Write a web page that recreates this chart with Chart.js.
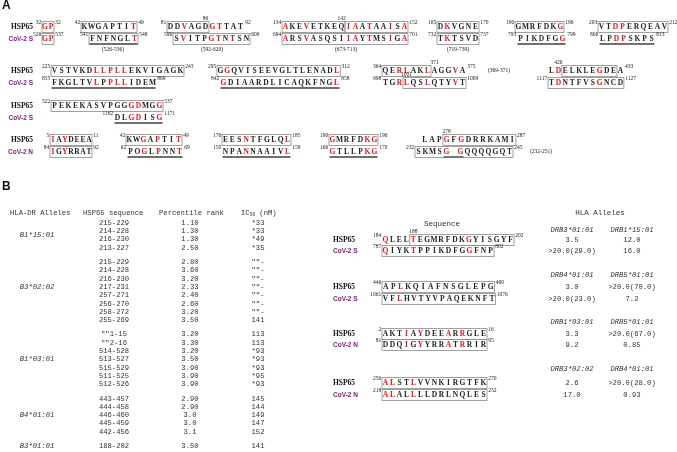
<!DOCTYPE html>
<html>
<head>
<meta charset="utf-8">
<script src="https://cdn.jsdelivr.net/npm/chart.js@4.4.1/dist/chart.umd.min.js"></script>
<style>
  html, body { margin: 0; padding: 0; background: #fff; }
  #wrap { width: 677px; height: 452px; position: relative; }
</style>
</head>
<body>
<div id="wrap"><canvas id="fig"></canvas></div>
<script>
// ===== panel A: aligned segments, HSP65 (top) vs CoV-2 (bottom) =====
const hspSeqs = ["GP", "KWGAPTIT", "DDVAGDGTTAT", "AKEVETKEQIAATAAISA", "DKVGNE", "GMRFDKG", "VTDPERQEAV",
    "VSTVKDLLPLLEKVIGAGK", "GGQVISEEVGLTLENADL", "QERLAKLAGGVA", "LDELKLEGDEA",
    "PEKEKASVPGGGDMGG",
    "IAYDEEA", "KWGAPTIT", "EESNTFGLQL", "GMRFDKG", "LAPGFGDRRKAMI"];
const covSeqs = ["GP", "FNFNGLT", "SVITPGTNTSN", "ARSVASQSIIAYTMSIGA", "TKTSVD", "PIKDFGG", "LPDPSKPS",
    "FKGLTVLPPLLIDEM", "GDIAARDLICAQKFNGL", "TGRLQSLQTYVT", "TDNTFVSGNCD",
    "DLGDISG",
    "IGYRRAT", "POGLPNNT", "NPANNAAIVL", "GTLLPKG", "SKMSG GQQQQGQT"];
const hspStart = [32, 42, 81, 134, 165, 190, 203, 225, 295, 364, null, 522, 5, 42, 176, 190, null];
const hspEnd = [32, 49, 92, 152, 170, 196, 212, 243, 312, 375, 433, 537, 11, 49, 185, 196, 287];
const covStart = [526, 541, 596, 694, 732, 793, 806, 855, 842, 998, 1117, 1162, 84, 62, 150, 166, 232];
const covEnd = [537, 548, 606, 701, 737, 799, 813, 869, 858, 1009, 1127, 1171, 92, 69, 159, 170, 245];
const hspRed = [[0, 1], [7], [2, 6, 7], [0, 3, 9, 10, 12, 15, 17], [1], [6], [2, 3],
    [6, 7, 8, 9, 10], [1, 17], [2, 3, 6, 10], [1, 7], [11, 12, 15],
    [0, 2], [2, 4, 7], [3, 9], [0, 5, 6], [3, 5]];
const covRed = [[0, 1], [6], [1, 5, 6, 8], [0, 3, 9, 10, 12, 15, 17], [1], [6], [2, 3],
    [6, 8, 9, 10], [0, 16], [2, 3, 6, 10], [1, 7], [2, 3, 6],
    [0, 2], [2, 4, 7], [3, 9], [0, 5, 6], [4, 6]];
// residue numbers printed above a given letter: [letter index, number]
const hspMarks = [[], [], [[5, 86]], [[8, 142]], [], [], [], [], [], [[7, 371]], [[1, 426]], [], [], [], [], [], [[3, 278]]];
const covMarks = [[], [], [], [], [], [], [], [], [], [[3, 1001]], [], [], [], [], [], [], []];
const rangeNotes = ["", "(526-536)", "(592-620)", "(673-713)", "(719-739)", "", "", "", "", "(369-371)",
    "", "", "", "", "", "", "(232-251)"];
const rowNames = ["CoV-2 S", "CoV-2 S", "CoV-2 S", "CoV-2 N"];

// ===== panel B left: predicted binders =====
const leftAlleles = ["B1*15:01", "B3*02:02", "B1*03:01", "B4*01:01", "B3*01:01"];
const hspRanges = [
    ["215-229", "214-228", "216-230", "213-227"],
    ["215-229", "214-228", "216-230", "217-231", "257-271", "256-270", "258-272", "255-269"],
    ["\"\"1-15", "\"\"2-16", "514-528", "513-527", "515-529", "511-525", "512-526"],
    ["443-457", "444-458", "446-460", "445-459", "442-456"],
    ["188-202"]];
const percentileRanks = [
    ["1.10", "1.30", "1.30", "2.50"],
    ["2.80", "3.60", "3.20", "2.33", "2.40", "2.60", "3.20", "3.50"],
    ["3.20", "3.30", "3.20", "3.50", "3.90", "3.90", "3.90"],
    ["2.90", "2.90", "3.0", "3.0", "3.1"],
    ["3.50"]];
const ic50Values = [
    ["*33", "*33", "*49", "*35"],
    ["\"\"-", "\"\"-", "\"\"-", "\"\"-", "\"\"-", "\"\"-", "\"\"-", "141"],
    ["113", "113", "*93", "*93", "*93", "*95", "*93"],
    ["145", "144", "149", "147", "152"],
    ["141"]];
const alleleRowIdx = [1.5, 3, 3, 2, 0];

// ===== panel B right: measured binding =====
const rightHsp = ["QLELTEGMRFDKGYISGYF", "APLKQIAFNSGLEPG", "AKTIAYDEEARRGLE", "ALSTLVVNKIRGTFK"];
const rightCov = ["QIYKTPPIKDFGGFNP", "VFLHVTYVPAQEKNFT", "DDQIGYYRRATRRIR", "ALALLLLDRLNQLES"];
const rightHspStart = [184, 446, 2, 256];
const rightHspEnd = [202, 460, 16, 270];
const rightCovStart = [787, 1061, 81, 218];
const rightCovEnd = [802, 1076, 95, 232];
const rightHspRed = [[0, 4, 12], [2], [3, 5, 9, 11], [0, 1, 4]];
const rightCovRed = [[0, 4, 12], [2], [3, 5, 9, 11], [0, 1, 4]];
const rightHspMarks = [[[4, 188]], [], [], []];
const rightCovNames = ["CoV-2 S", "CoV-2 S", "CoV-2 N", "CoV-2 N"];
const alleleA = ["DRB3*01:01", "DRB4*01:01", "DRB1*03:01", "DRB3*02:02"];
const alleleB = ["DRB1*15:01", "DRB5*01:01", "DRB5*01:01", "DRB4*01:01"];
const hspValA = ["3.5", "3.0", "3.3", "2.6"];
const hspValB = ["12.0", ">20.0(70.0)", ">20.0(67.0)", ">20.0(28.0)"];
const covValA = [">20.0(29.0)", ">20.0(23.0)", "9.2", "17.0"];
const covValB = ["16.0", "7.2", "0.85", "0.93"];

// ---- layout (positions only) ----
const segRow = [0, 0, 0, 0, 0, 0, 0, 1, 1, 1, 1, 2, 3, 3, 3, 3, 3];
const rowTopY = [27, 71, 106, 140];
const rowBotY = [39, 83, 118, 152];
const hspX0 = [42, 81, 167, 282, 437, 515, 598, 51, 217, 382, 548, 51, 50, 126, 222, 329, 421];
const hspPitch = [6, 7, 7, 7, 7, 7, 7, 7, 6.85, 7, 6.9, 7, 6, 7, 6.9, 7, 7.3];
const covX0 = [42, 89, 173, 282, 437, 517, 599, 51, 220, 382, 548, 114, 50, 127, 222, 329, 415];
const covPitch = [6, 7, 7, 7, 7, 7, 7, 7, 7.06, 7, 6.9, 7, 6, 7, 6.9, 7, 7];
const hspBox = [[[0, 1]], [[0, 7]], [[0, 5]], [[0, 8], [9, 17]], [[0, 5]], [[0, 6]], [[0, 9]],
    [[0, 18]], [[0, 17]], [[0, 6]], [[2, 9]], [[0, 15]],
    [[0, 6]], [[0, 7]], [[0, 9]], [[0, 6]], [[3, 12]]];
const covBox = [[[0, 1]], [[0, 6]], [[0, 10]], [[0, 17]], [[0, 5]], [], [],
    [], [], [[3, 11]], [[0, 10]], [],
    [[0, 6]], [], [], [], [[0, 13]]];
const covLine = [[], [[0, 6]], [], [], [], [[0, 6]], [[0, 7]],
    [[0, 14]], [[0, 16]], [], [], [[0, 6]],
    [], [[0, 7]], [[0, 9]], [[0, 6]], [[4, 6]]];
const rangeX = [0, 113, 212, 346, 458, 0, 0, 0, 0, 499, 0, 0, 0, 0, 0, 0, 541];
const rangeY = [0, 50, 50, 50, 50, 0, 0, 0, 0, 71, 0, 0, 0, 0, 0, 0, 152];

const rightTopY = [240, 287, 334, 383];
const rightBotY = [251, 299, 345, 395];
const rightHeadY = [230, 275, 322, 369];
const rightHspPitch = [6.95, 7.5, 7, 7];
const rightCovPitch = [7, 7.1, 7, 7];
const rightHspBox = [[[4, 18]], [[0, 14]], [[0, 14]], [[0, 14]]];

const RED = "#e3151b";
const PURPLE = "#861c88";
const SEQ_FONT = "bold 7.5px 'Liberation Serif'";
const NUM_FONT = "5.5px 'Liberation Serif'";
const MONO = "7.2px 'Liberation Mono'";
const MONO_IT = "italic 7.2px 'Liberation Mono'";

const figurePlugin = {
    id: "figure",
    afterDatasetsDraw(chart) {
        const ctx = chart.ctx;
        const X = (v) => chart.scales.x.getPixelForValue(v);
        const Y = (v) => chart.scales.y.getPixelForValue(v);

        function text(str, x, y, font, color, align) {
            ctx.font = font;
            ctx.fillStyle = color;
            ctx.textAlign = align || "left";
            ctx.textBaseline = "middle";
            ctx.fillText(str, X(x), Y(y));
        }

        function drawSeq(letters, x0, pitch, y, red, boxes, lines, marks, startNum, endNum) {
            ctx.strokeStyle = "#8a8a8a";
            ctx.lineWidth = 0.8;
            boxes.forEach(([a, b]) => {
                const xa = X(x0 + a * pitch), xb = X(x0 + (b + 1) * pitch);
                ctx.strokeRect(xa, Y(y - 5.5), xb - xa, Y(y + 5.5) - Y(y - 5.5));
            });
            ctx.strokeStyle = "#707070";
            ctx.lineWidth = 1.8;
            lines.forEach(([a, b]) => {
                ctx.beginPath();
                ctx.moveTo(X(x0 + a * pitch + 0.5), Y(y + 5));
                ctx.lineTo(X(x0 + (b + 1) * pitch - 0.5), Y(y + 5));
                ctx.stroke();
            });
            for (let i = 0; i < letters.length; i++) {
                const ch = letters[i];
                if (ch === " ") continue;
                text(ch, x0 + (i + 0.5) * pitch, y + 0.5, SEQ_FONT, red.includes(i) ? RED : "#222", "center");
            }
            marks.forEach(([i, n]) => text(String(n), x0 + (i + 0.5) * pitch, y - 8.5, NUM_FONT, "#222", "center"));
            if (startNum !== null) text(String(startNum), x0 - 0.8, y - 4, NUM_FONT, "#222", "right");
            if (endNum !== null) text(String(endNum), x0 + letters.length * pitch + 1.2, y - 4, NUM_FONT, "#222", "left");
        }

        // panel letters
        text("A", 2, 6, "bold 12px 'Liberation Sans'", "#111", "left");
        text("B", 2, 187, "bold 12px 'Liberation Sans'", "#111", "left");

        // row labels
        rowTopY.forEach((y, r) => {
            text("HSP65", 33, y + 0.5, "bold 7.5px 'Liberation Serif'", "#111", "right");
            text(rowNames[r], 33, rowBotY[r] + 0.5, "bold 6.5px 'Liberation Sans'", PURPLE, "right");
        });

        hspSeqs.forEach((seq, k) => {
            const r = segRow[k];
            drawSeq(seq, hspX0[k], hspPitch[k], rowTopY[r], hspRed[k], hspBox[k], [], hspMarks[k], hspStart[k], hspEnd[k]);
            drawSeq(covSeqs[k], covX0[k], covPitch[k], rowBotY[r], covRed[k], covBox[k], covLine[k], covMarks[k], covStart[k], covEnd[k]);
            if (rangeNotes[k]) text(rangeNotes[k], rangeX[k], rangeY[k], NUM_FONT, "#222", "center");
        });

        // ---- left table ----
        const hy = 213;
        text("HLA-DR Alleles", 10, hy, MONO, "#333", "left");
        text("HSP65 sequence", 83, hy, MONO, "#333", "left");
        text("Percentile rank", 159, hy, MONO, "#333", "left");
        text("IC", 241, hy, MONO, "#333", "left");
        text("50", 249.8, hy + 1.5, "4.5px 'Liberation Mono'", "#333", "left");
        text(" (nM)", 255, hy, MONO, "#333", "left");

        const step = 8.3, gap = 6;
        let y = 223;
        hspRanges.forEach((grp, g) => {
            const y0 = y;
            grp.forEach((seq, i) => {
                text(seq, 114, y, MONO, "#333", "center");
                text(percentileRanks[g][i], 190, y, MONO, "#333", "center");
                text(ic50Values[g][i], 258, y, MONO, "#333", "center");
                y += step;
            });
            text(leftAlleles[g], 37, y0 + alleleRowIdx[g] * step, MONO_IT, "#333", "center");
            y += gap;
        });

        // ---- right table ----
        text("HLA Alleles", 600, 213, "7.5px 'Liberation Mono'", "#333", "center");
        text("Sequence", 442, 224, "7.5px 'Liberation Mono'", "#333", "center");
        rightHsp.forEach((seq, k) => {
            text(alleleA[k], 572, rightHeadY[k], MONO_IT, "#333", "center");
            text(alleleB[k], 632, rightHeadY[k], MONO_IT, "#333", "center");
            text("HSP65", 333, rightTopY[k] + 0.5, "bold 7.5px 'Liberation Serif'", "#111", "left");
            text(rightCovNames[k], 333, rightBotY[k] + 0.5, "bold 6.5px 'Liberation Sans'", PURPLE, "left");
            drawSeq(seq, 382, rightHspPitch[k], rightTopY[k], rightHspRed[k], rightHspBox[k], [], rightHspMarks[k], rightHspStart[k], rightHspEnd[k]);
            const cov = rightCov[k];
            drawSeq(cov, 382, rightCovPitch[k], rightBotY[k], rightCovRed[k], [[0, cov.length - 1]], [], [], rightCovStart[k], rightCovEnd[k]);
            text(hspValA[k], 572, rightTopY[k], MONO, "#333", "center");
            text(hspValB[k], 632, rightTopY[k], MONO, "#333", "center");
            text(covValA[k], 572, rightBotY[k], MONO, "#333", "center");
            text(covValB[k], 632, rightBotY[k], MONO, "#333", "center");
        });
    },
};

new Chart(document.querySelector("#fig"), {
    type: "scatter",
    data: { datasets: [] },
    options: {
        responsive: true,
        maintainAspectRatio: false,
        animation: false,
        layout: { padding: 0 },
        scales: {
            x: { type: "linear", min: 0, max: 677, display: false },
            y: { type: "linear", min: 0, max: 452, reverse: true, display: false },
        },
        plugins: { legend: { display: false }, tooltip: { enabled: false } },
    },
    plugins: [figurePlugin],
});
</script>
</body>
</html>
